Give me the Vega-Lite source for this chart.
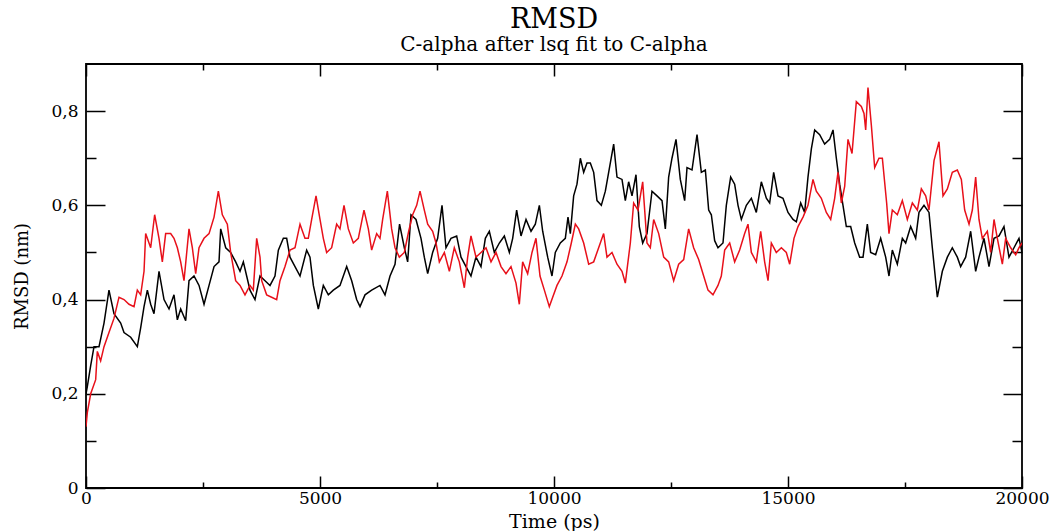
{
  "$schema": "https://vega.github.io/schema/vega-lite/v6.json",
  "autosize": {"type": "none"},
  "padding": {"left": 86, "top": 64, "right": 36, "bottom": 43},
  "width": 936,
  "height": 424,
  "background": "white",
  "title": {
    "text": "RMSD",
    "subtitle": "C-alpha after lsq fit to C-alpha",
    "anchor": "middle",
    "font": "DejaVu Serif",
    "fontSize": 27,
    "fontWeight": "normal",
    "color": "black",
    "subtitleFont": "DejaVu Serif",
    "subtitleFontSize": 20,
    "subtitleColor": "black",
    "subtitlePadding": 1,
    "offset": 7
  },
  "datasets": {
    "black": [
      {"t":0,"v":0.2},{"t":28,"v":0.215},{"t":100,"v":0.26},{"t":171,"v":0.3},{"t":278,"v":0.3},{"t":385,"v":0.35},{"t":491,"v":0.42},{"t":598,"v":0.37},{"t":741,"v":0.35},{"t":812,"v":0.33},{"t":955,"v":0.32},{"t":1097,"v":0.3},{"t":1168,"v":0.34},{"t":1240,"v":0.385},{"t":1311,"v":0.42},{"t":1382,"v":0.39},{"t":1453,"v":0.37},{"t":1560,"v":0.46},{"t":1667,"v":0.4},{"t":1774,"v":0.38},{"t":1880,"v":0.41},{"t":1952,"v":0.357},{"t":2023,"v":0.38},{"t":2130,"v":0.355},{"t":2201,"v":0.44},{"t":2308,"v":0.45},{"t":2415,"v":0.43},{"t":2522,"v":0.39},{"t":2629,"v":0.43},{"t":2736,"v":0.47},{"t":2842,"v":0.48},{"t":2878,"v":0.55},{"t":2985,"v":0.51},{"t":3091,"v":0.5},{"t":3198,"v":0.48},{"t":3291,"v":0.46},{"t":3362,"v":0.48},{"t":3433,"v":0.45},{"t":3504,"v":0.42},{"t":3611,"v":0.4},{"t":3718,"v":0.45},{"t":3825,"v":0.44},{"t":3932,"v":0.43},{"t":4038,"v":0.45},{"t":4110,"v":0.505},{"t":4217,"v":0.53},{"t":4288,"v":0.53},{"t":4359,"v":0.49},{"t":4466,"v":0.47},{"t":4573,"v":0.45},{"t":4715,"v":0.505},{"t":4786,"v":0.49},{"t":4858,"v":0.43},{"t":4964,"v":0.38},{"t":5071,"v":0.43},{"t":5178,"v":0.41},{"t":5285,"v":0.42},{"t":5427,"v":0.43},{"t":5570,"v":0.47},{"t":5677,"v":0.44},{"t":5783,"v":0.4},{"t":5855,"v":0.385},{"t":5962,"v":0.41},{"t":6104,"v":0.42},{"t":6282,"v":0.43},{"t":6389,"v":0.41},{"t":6496,"v":0.45},{"t":6603,"v":0.475},{"t":6700,"v":0.56},{"t":6802,"v":0.51},{"t":6873,"v":0.48},{"t":6944,"v":0.58},{"t":7051,"v":0.57},{"t":7158,"v":0.53},{"t":7229,"v":0.49},{"t":7301,"v":0.455},{"t":7407,"v":0.5},{"t":7514,"v":0.53},{"t":7607,"v":0.6},{"t":7692,"v":0.51},{"t":7799,"v":0.53},{"t":7920,"v":0.535},{"t":8013,"v":0.49},{"t":8120,"v":0.47},{"t":8226,"v":0.45},{"t":8333,"v":0.49},{"t":8440,"v":0.47},{"t":8533,"v":0.53},{"t":8618,"v":0.545},{"t":8725,"v":0.5},{"t":8832,"v":0.52},{"t":8939,"v":0.535},{"t":9046,"v":0.5},{"t":9117,"v":0.53},{"t":9202,"v":0.59},{"t":9295,"v":0.535},{"t":9402,"v":0.57},{"t":9509,"v":0.545},{"t":9601,"v":0.56},{"t":9687,"v":0.6},{"t":9758,"v":0.545},{"t":9865,"v":0.49},{"t":9957,"v":0.45},{"t":10028,"v":0.5},{"t":10135,"v":0.52},{"t":10242,"v":0.53},{"t":10299,"v":0.575},{"t":10349,"v":0.54},{"t":10420,"v":0.62},{"t":10491,"v":0.645},{"t":10563,"v":0.7},{"t":10634,"v":0.67},{"t":10705,"v":0.69},{"t":10776,"v":0.69},{"t":10848,"v":0.67},{"t":10919,"v":0.61},{"t":11011,"v":0.6},{"t":11097,"v":0.63},{"t":11168,"v":0.67},{"t":11275,"v":0.73},{"t":11346,"v":0.66},{"t":11453,"v":0.655},{"t":11524,"v":0.61},{"t":11595,"v":0.65},{"t":11667,"v":0.62},{"t":11752,"v":0.665},{"t":11823,"v":0.555},{"t":11895,"v":0.52},{"t":11987,"v":0.54},{"t":12094,"v":0.63},{"t":12201,"v":0.62},{"t":12308,"v":0.61},{"t":12379,"v":0.55},{"t":12450,"v":0.66},{"t":12521,"v":0.7},{"t":12607,"v":0.74},{"t":12699,"v":0.655},{"t":12792,"v":0.61},{"t":12842,"v":0.68},{"t":12949,"v":0.675},{"t":13056,"v":0.75},{"t":13148,"v":0.67},{"t":13234,"v":0.675},{"t":13305,"v":0.59},{"t":13362,"v":0.58},{"t":13433,"v":0.525},{"t":13504,"v":0.51},{"t":13611,"v":0.52},{"t":13682,"v":0.6},{"t":13775,"v":0.66},{"t":13860,"v":0.645},{"t":13932,"v":0.6},{"t":14003,"v":0.57},{"t":14110,"v":0.6},{"t":14217,"v":0.615},{"t":14323,"v":0.585},{"t":14430,"v":0.65},{"t":14537,"v":0.615},{"t":14608,"v":0.605},{"t":14694,"v":0.67},{"t":14786,"v":0.62},{"t":14893,"v":0.615},{"t":15000,"v":0.585},{"t":15107,"v":0.57},{"t":15178,"v":0.565},{"t":15271,"v":0.605},{"t":15356,"v":0.585},{"t":15427,"v":0.66},{"t":15499,"v":0.72},{"t":15570,"v":0.76},{"t":15677,"v":0.75},{"t":15783,"v":0.73},{"t":15890,"v":0.74},{"t":15962,"v":0.76},{"t":16033,"v":0.7},{"t":16104,"v":0.645},{"t":16175,"v":0.6},{"t":16246,"v":0.555},{"t":16339,"v":0.555},{"t":16425,"v":0.52},{"t":16531,"v":0.49},{"t":16603,"v":0.49},{"t":16695,"v":0.56},{"t":16766,"v":0.5},{"t":16873,"v":0.495},{"t":16980,"v":0.53},{"t":17087,"v":0.49},{"t":17158,"v":0.45},{"t":17229,"v":0.505},{"t":17336,"v":0.475},{"t":17443,"v":0.53},{"t":17514,"v":0.52},{"t":17621,"v":0.555},{"t":17728,"v":0.53},{"t":17799,"v":0.585},{"t":17906,"v":0.6},{"t":18013,"v":0.585},{"t":18084,"v":0.51},{"t":18155,"v":0.44},{"t":18191,"v":0.405},{"t":18298,"v":0.46},{"t":18405,"v":0.49},{"t":18511,"v":0.51},{"t":18618,"v":0.49},{"t":18689,"v":0.47},{"t":18796,"v":0.49},{"t":18903,"v":0.545},{"t":19010,"v":0.46},{"t":19081,"v":0.49},{"t":19188,"v":0.53},{"t":19295,"v":0.47},{"t":19402,"v":0.53},{"t":19509,"v":0.535},{"t":19615,"v":0.555},{"t":19722,"v":0.49},{"t":19829,"v":0.51},{"t":19936,"v":0.53},{"t":20000,"v":0.5}
    ],
    "red": [
      {"t":0,"v":0.13},{"t":28,"v":0.16},{"t":100,"v":0.2},{"t":207,"v":0.23},{"t":242,"v":0.29},{"t":313,"v":0.27},{"t":385,"v":0.3},{"t":491,"v":0.33},{"t":598,"v":0.36},{"t":705,"v":0.405},{"t":812,"v":0.4},{"t":919,"v":0.39},{"t":1026,"v":0.385},{"t":1097,"v":0.42},{"t":1168,"v":0.41},{"t":1240,"v":0.46},{"t":1275,"v":0.54},{"t":1382,"v":0.51},{"t":1467,"v":0.58},{"t":1560,"v":0.53},{"t":1631,"v":0.48},{"t":1702,"v":0.54},{"t":1809,"v":0.54},{"t":1880,"v":0.53},{"t":1952,"v":0.51},{"t":2023,"v":0.48},{"t":2094,"v":0.44},{"t":2201,"v":0.55},{"t":2272,"v":0.51},{"t":2344,"v":0.455},{"t":2415,"v":0.51},{"t":2522,"v":0.53},{"t":2629,"v":0.54},{"t":2736,"v":0.575},{"t":2828,"v":0.63},{"t":2913,"v":0.58},{"t":3020,"v":0.56},{"t":3091,"v":0.5},{"t":3198,"v":0.44},{"t":3291,"v":0.43},{"t":3397,"v":0.41},{"t":3504,"v":0.43},{"t":3575,"v":0.42},{"t":3647,"v":0.53},{"t":3718,"v":0.49},{"t":3754,"v":0.44},{"t":3860,"v":0.41},{"t":3967,"v":0.405},{"t":4074,"v":0.4},{"t":4145,"v":0.44},{"t":4252,"v":0.47},{"t":4359,"v":0.505},{"t":4466,"v":0.51},{"t":4573,"v":0.56},{"t":4679,"v":0.53},{"t":4750,"v":0.53},{"t":4822,"v":0.57},{"t":4915,"v":0.62},{"t":5000,"v":0.57},{"t":5071,"v":0.53},{"t":5142,"v":0.5},{"t":5249,"v":0.51},{"t":5356,"v":0.56},{"t":5427,"v":0.55},{"t":5513,"v":0.6},{"t":5605,"v":0.55},{"t":5712,"v":0.52},{"t":5819,"v":0.53},{"t":5940,"v":0.59},{"t":6033,"v":0.55},{"t":6104,"v":0.505},{"t":6211,"v":0.54},{"t":6282,"v":0.53},{"t":6339,"v":0.57},{"t":6439,"v":0.63},{"t":6531,"v":0.55},{"t":6603,"v":0.51},{"t":6695,"v":0.49},{"t":6802,"v":0.5},{"t":6895,"v":0.545},{"t":6980,"v":0.58},{"t":7066,"v":0.6},{"t":7137,"v":0.63},{"t":7229,"v":0.59},{"t":7301,"v":0.56},{"t":7407,"v":0.545},{"t":7479,"v":0.52},{"t":7550,"v":0.48},{"t":7657,"v":0.5},{"t":7764,"v":0.46},{"t":7870,"v":0.51},{"t":7977,"v":0.48},{"t":8084,"v":0.425},{"t":8155,"v":0.49},{"t":8226,"v":0.535},{"t":8333,"v":0.49},{"t":8440,"v":0.5},{"t":8547,"v":0.51},{"t":8654,"v":0.48},{"t":8761,"v":0.5},{"t":8868,"v":0.47},{"t":8974,"v":0.455},{"t":9081,"v":0.47},{"t":9188,"v":0.435},{"t":9259,"v":0.39},{"t":9330,"v":0.48},{"t":9437,"v":0.455},{"t":9530,"v":0.5},{"t":9615,"v":0.53},{"t":9701,"v":0.45},{"t":9794,"v":0.42},{"t":9900,"v":0.385},{"t":9972,"v":0.405},{"t":10064,"v":0.43},{"t":10171,"v":0.45},{"t":10278,"v":0.48},{"t":10370,"v":0.52},{"t":10456,"v":0.56},{"t":10527,"v":0.55},{"t":10634,"v":0.52},{"t":10741,"v":0.475},{"t":10848,"v":0.48},{"t":10954,"v":0.51},{"t":11061,"v":0.54},{"t":11132,"v":0.49},{"t":11239,"v":0.5},{"t":11346,"v":0.475},{"t":11453,"v":0.46},{"t":11524,"v":0.435},{"t":11631,"v":0.52},{"t":11702,"v":0.605},{"t":11795,"v":0.59},{"t":11895,"v":0.65},{"t":11987,"v":0.52},{"t":12058,"v":0.51},{"t":12130,"v":0.57},{"t":12237,"v":0.54},{"t":12344,"v":0.49},{"t":12450,"v":0.48},{"t":12557,"v":0.44},{"t":12664,"v":0.475},{"t":12771,"v":0.485},{"t":12877,"v":0.55},{"t":12984,"v":0.51},{"t":13091,"v":0.485},{"t":13198,"v":0.45},{"t":13291,"v":0.42},{"t":13397,"v":0.41},{"t":13504,"v":0.43},{"t":13575,"v":0.45},{"t":13647,"v":0.505},{"t":13754,"v":0.52},{"t":13860,"v":0.48},{"t":13967,"v":0.505},{"t":14074,"v":0.54},{"t":14145,"v":0.56},{"t":14217,"v":0.5},{"t":14323,"v":0.48},{"t":14416,"v":0.545},{"t":14501,"v":0.48},{"t":14573,"v":0.44},{"t":14644,"v":0.52},{"t":14750,"v":0.5},{"t":14858,"v":0.51},{"t":14964,"v":0.5},{"t":15036,"v":0.475},{"t":15128,"v":0.53},{"t":15214,"v":0.555},{"t":15321,"v":0.575},{"t":15427,"v":0.6},{"t":15534,"v":0.655},{"t":15605,"v":0.63},{"t":15712,"v":0.615},{"t":15819,"v":0.585},{"t":15912,"v":0.57},{"t":15997,"v":0.615},{"t":16068,"v":0.67},{"t":16140,"v":0.605},{"t":16211,"v":0.64},{"t":16282,"v":0.74},{"t":16368,"v":0.71},{"t":16460,"v":0.82},{"t":16567,"v":0.81},{"t":16624,"v":0.795},{"t":16660,"v":0.76},{"t":16709,"v":0.85},{"t":16781,"v":0.77},{"t":16852,"v":0.68},{"t":16944,"v":0.7},{"t":17016,"v":0.7},{"t":17108,"v":0.605},{"t":17158,"v":0.54},{"t":17229,"v":0.59},{"t":17336,"v":0.58},{"t":17443,"v":0.61},{"t":17550,"v":0.57},{"t":17657,"v":0.605},{"t":17764,"v":0.59},{"t":17849,"v":0.635},{"t":17942,"v":0.62},{"t":18013,"v":0.59},{"t":18120,"v":0.695},{"t":18226,"v":0.735},{"t":18312,"v":0.62},{"t":18405,"v":0.635},{"t":18511,"v":0.67},{"t":18618,"v":0.675},{"t":18704,"v":0.655},{"t":18775,"v":0.59},{"t":18868,"v":0.56},{"t":18939,"v":0.59},{"t":19010,"v":0.66},{"t":19081,"v":0.57},{"t":19152,"v":0.53},{"t":19259,"v":0.545},{"t":19330,"v":0.5},{"t":19402,"v":0.57},{"t":19473,"v":0.53},{"t":19580,"v":0.475},{"t":19651,"v":0.53},{"t":19758,"v":0.51},{"t":19865,"v":0.495},{"t":19936,"v":0.51},{"t":20000,"v":0.52}
    ]
  },
  "layer": [
    {
      "data": {"name": "black"},
      "mark": {"type": "line", "color": "#000000", "strokeWidth": 1.5, "clip": true},
      "encoding": {
        "x": {
          "field": "t", "type": "quantitative",
          "scale": {"domain": [0, 20000], "nice": false, "zero": false},
          "axis": {
            "orient": "bottom",
            "values": [0, 2500, 5000, 7500, 10000, 12500, 15000, 17500, 20000],
            "tickSize": {"condition": {"test": "datum.value % 5000 === 0", "value": -12}, "value": -6},
            "labelExpr": "datum.value % 5000 === 0 ? '' + datum.value : ''",
            "labelPadding": 14,
            "title": "Time (ps)",
            "titleFontSize": 19,
            "titlePadding": 0
          }
        },
        "y": {
          "field": "v", "type": "quantitative",
          "scale": {"domain": [0, 0.9], "nice": false, "zero": false},
          "axis": {
            "orient": "left",
            "values": [0, 0.1, 0.2, 0.3, 0.4, 0.5, 0.6, 0.7, 0.8],
            "tickSize": {"condition": {"test": "round(datum.value * 10) % 2 === 0", "value": -19}, "value": -10},
            "labelExpr": "datum.value === 0 ? '0' : (round(datum.value * 10) % 2 === 0 ? replace(format(datum.value, '.1f'), '.', ',') : '')",
            "labelPadding": 27,
            "title": "RMSD (nm)",
            "titleFontSize": 18,
            "titlePadding": 19
          }
        }
      }
    },
    {
      "data": {"name": "red"},
      "mark": {"type": "line", "color": "#e8101a", "strokeWidth": 1.5, "clip": true},
      "encoding": {
        "x": {
          "field": "t", "type": "quantitative",
          "scale": {"domain": [0, 20000], "nice": false, "zero": false},
          "axis": {
            "orient": "top",
            "values": [0, 2500, 5000, 7500, 10000, 12500, 15000, 17500, 20000],
            "tickSize": {"condition": {"test": "datum.value % 5000 === 0", "value": -12}, "value": -6},
            "labels": false,
            "title": null
          }
        },
        "y": {
          "field": "v", "type": "quantitative",
          "scale": {"domain": [0, 0.9], "nice": false, "zero": false},
          "axis": {
            "orient": "right",
            "values": [0, 0.1, 0.2, 0.3, 0.4, 0.5, 0.6, 0.7, 0.8],
            "tickSize": {"condition": {"test": "round(datum.value * 10) % 2 === 0", "value": -19}, "value": -10},
            "labels": false,
            "title": null
          }
        }
      }
    }
  ],
  "resolve": {"axis": {"x": "independent", "y": "independent"}},
  "config": {
    "view": {"stroke": "black", "strokeWidth": 1.8},
    "axis": {
      "domain": false,
      "grid": false,
      "ticks": true,
      "tickColor": "black",
      "tickWidth": 1.5,
      "labelFont": "DejaVu Serif",
      "labelFontSize": 17,
      "labelColor": "black",
      "labelFlush": false,
      "labelOverlap": false,
      "titleFont": "DejaVu Serif",
      "titleFontWeight": "normal",
      "titleColor": "black"
    }
  }
}
